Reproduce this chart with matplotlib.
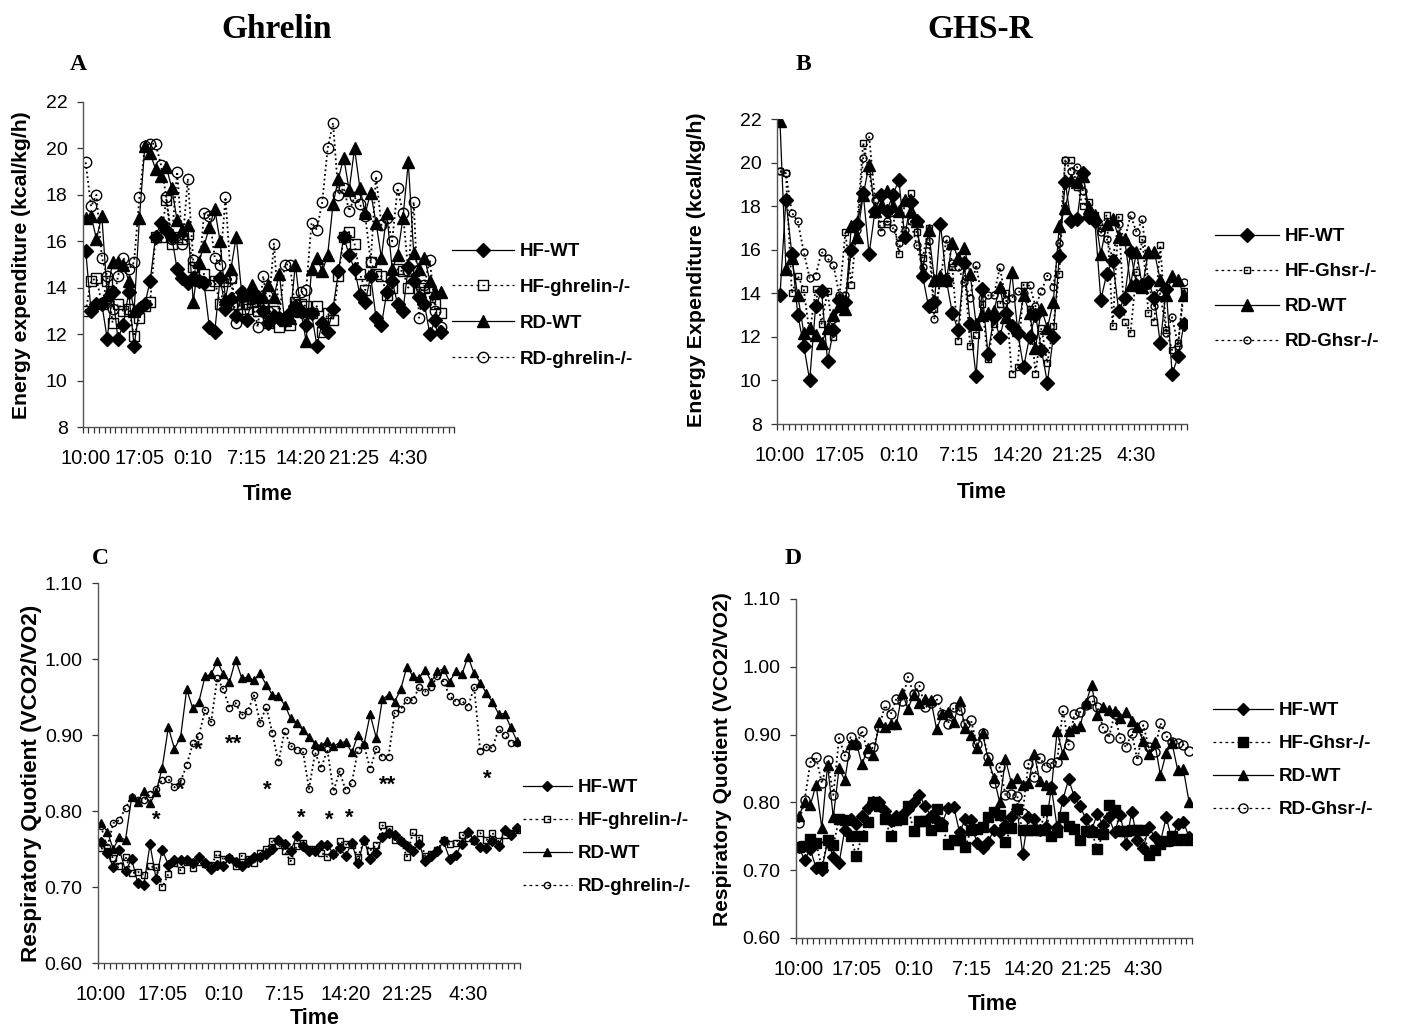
import numpy as np
import matplotlib.pyplot as plt

plt.rcParams['font.family'] = ['Liberation Sans', 'DejaVu Sans']

W, H = 1403, 1027

time_labels = ["10:00", "17:05", "0:10", "7:15", "14:20", "21:25", "4:30"]
n_cat = 69

# ---- Panel A: energy expenditure, ghrelin ----
a_hf_wt = [15.6, 13.0, 13.3, 13.3, 11.8, 13.8, 11.8, 12.4, 13.8, 11.5, 13.1, 13.3, 14.3, 16.2, 16.8,
           16.5, 16.2, 14.8, 14.4, 14.2, 14.4, 14.3, 14.2, 12.3, 12.1, 14.4, 13.1, 13.5, 12.8, 13.8,
           12.6, 13.6, 13.6, 13.0, 12.5, 12.8, 12.7, 12.6, 12.9, 13.2, 13.0, 12.4, 12.9, 11.5, 12.5,
           12.1, 13.1, 14.7, 16.2, 15.4, 14.8, 13.7, 13.4, 14.5, 12.7, 12.4, 13.8, 14.3, 13.3, 13.0,
           14.9, 14.3, 13.6, 13.3, 12.0, 12.6, 12.1]
a_hf_ko = [13.0, 14.3, 14.4, 13.3, 14.3, 12.5, 13.3, 13.0, 13.1, 11.9, 12.7, 13.2, 13.4, 16.2, 16.2,
           17.8, 15.9, 16.2, 16.1, 16.3, 14.9, 14.3, 14.6, 14.1, 14.3, 13.3, 14.3, 14.4, 13.3, 13.3,
           13.1, 13.4, 13.0, 13.2, 12.5, 13.0, 12.3, 12.7, 12.4, 13.4, 13.3, 13.2, 12.9, 13.2, 12.1,
           12.9, 12.6, 14.5, 16.2, 16.4, 15.9, 14.6, 13.9, 15.1, 14.6, 14.5, 13.7, 14.0, 14.8, 14.7,
           14.0, 14.7, 13.8, 14.0, 13.6, 13.3, 12.9]
a_rd_wt = [17.0, 17.1, 16.1, 17.1, 13.7, 15.1, 15.1, 15.0, 14.3, 13.0, 17.0, 20.1, 19.8, 19.1, 18.8,
           19.2, 18.3, 16.9, 16.5, 16.7, 13.4, 15.1, 15.8, 16.6, 17.4, 16.0, 13.5, 14.8, 16.2, 13.8,
           13.7, 14.1, 13.6, 13.6, 14.1, 13.6, 14.6, 12.6, 12.7, 15.0, 13.0, 11.7, 14.8, 15.3, 14.7,
           15.4, 17.6, 18.7, 19.6, 18.2, 20.0, 18.3, 17.2, 18.1, 16.8, 15.3, 17.2, 14.8, 15.4, 17.0,
           19.4, 15.5, 14.8, 15.3, 14.3, 13.8, 13.8]
a_rd_ko = [19.4, 17.5, 18.0, 15.3, 14.5, 13.1, 14.5, 15.3, 14.8, 15.1, 17.9, 20.1, 20.2, 20.2, 19.3,
           17.9, 16.1, 19.0, 15.9, 18.7, 15.2, 14.3, 17.2, 17.1, 15.3, 15.0, 17.9, 14.4, 12.5, 13.6,
           13.3, 13.5, 12.3, 14.5, 13.0, 15.9, 12.7, 15.0, 15.0, 13.0, 13.8, 13.9, 16.8, 16.5, 17.7,
           20.0, 21.1, 18.0, 18.3, 17.3, 17.9, 17.6, 17.1, 15.1, 18.8, 16.7, 17.0, 16.0, 18.3, 17.2,
           14.7, 17.7, 12.7, 14.1, 15.2, 13.0, 12.3]

# ---- Panel B: energy expenditure, GHS-R ----
b_hf_wt = [13.9, 18.3, 15.8, 13.0, 11.6, 10.0, 13.4, 14.1, 10.9, 12.3, 13.7, 13.6, 16.0, 17.2, 18.6,
           15.8, 17.8, 18.5, 17.8, 18.5, 19.2, 16.6, 18.2, 17.3, 14.8, 13.4, 13.6, 17.2, 14.6, 13.1,
           12.3, 15.4, 12.6, 10.2, 14.2, 11.2, 12.9, 12.0, 13.1, 12.5, 12.2, 10.6, 12.0, 13.0, 11.4,
           9.9, 12.0, 15.7, 19.1, 17.3, 17.4, 19.5, 17.5, 17.3, 13.7, 14.9, 15.5, 13.2, 13.8, 15.9,
           14.4, 14.4, 14.5, 13.8, 11.7, 14.2, 10.3, 11.1, 12.6]
b_hf_ko = [19.6, 19.5, 14.0, 14.8, 14.2, 12.1, 14.2, 12.6, 14.1, 12.0, 13.8, 16.8, 14.4, 17.2, 20.9,
           19.6, 17.8, 17.2, 17.2, 17.7, 15.8, 18.2, 18.6, 16.8, 15.6, 17.0, 13.3, 14.5, 14.7, 15.2,
           11.8, 15.3, 11.6, 12.1, 13.5, 11.0, 12.6, 13.5, 14.0, 10.3, 10.6, 14.4, 13.3, 10.3, 12.4,
           10.8, 12.5, 14.9, 20.1, 20.1, 18.9, 18.0, 18.2, 17.6, 17.0, 17.6, 12.5, 17.5, 12.7, 12.2,
           15.0, 16.5, 13.1, 12.7, 16.2, 12.3, 11.4, 11.7, 14.1]
b_rd_wt = [21.9, 15.1, 15.6, 13.9, 12.2, 12.4, 12.1, 11.7, 12.4, 13.0, 13.4, 13.3, 17.1, 16.6, 18.5,
           19.9, 17.8, 18.0, 18.7, 18.0, 17.8, 18.3, 17.8, 17.3, 15.0, 16.9, 14.6, 14.8, 14.6, 16.3,
           15.6, 16.1, 14.9, 12.6, 13.0, 13.1, 13.2, 14.3, 12.9, 15.0, 12.3, 13.9, 13.1, 11.5, 13.3,
           12.4, 13.6, 17.1, 17.9, 19.2, 19.1, 19.4, 17.9, 17.6, 15.8, 17.2, 17.4, 16.6, 16.5, 14.4,
           15.9, 14.3, 15.9, 15.9, 14.6, 13.9, 14.8, 14.6, 13.9]
b_rd_ko = [19.6, 19.5, 17.7, 17.3, 15.9, 14.7, 14.8, 15.9, 15.6, 15.3, 13.9, 13.9, 16.0, 16.9, 20.2,
           21.2, 18.3, 16.8, 17.3, 17.0, 16.3, 16.9, 17.3, 16.2, 15.2, 16.4, 12.8, 14.6, 16.5, 15.4,
           15.2, 14.5, 13.8, 15.3, 13.8, 13.9, 13.9, 15.2, 13.7, 13.8, 14.1, 14.0, 14.4, 13.4, 14.1,
           14.8, 14.3, 16.3, 20.1, 19.6, 19.8, 18.7, 17.8, 17.5, 16.8, 16.5, 15.6, 17.2, 16.4, 17.6,
           16.8, 17.4, 14.4, 13.4, 14.0, 12.2, 12.9, 11.6, 14.5]

# ---- Panel C: respiratory quotient, ghrelin ----
c_hf_wt = [0.759, 0.745, 0.726, 0.749, 0.721, 0.737, 0.705, 0.703, 0.756, 0.711, 0.749, 0.729, 0.736,
           0.735, 0.735, 0.732, 0.739, 0.732, 0.724, 0.729, 0.728, 0.738, 0.733, 0.728, 0.733, 0.740,
           0.740, 0.744, 0.750, 0.762, 0.756, 0.748, 0.767, 0.754, 0.748, 0.748, 0.755, 0.755, 0.744,
           0.751, 0.741, 0.758, 0.731, 0.762, 0.737, 0.745, 0.766, 0.771, 0.769, 0.760, 0.754, 0.748,
           0.757, 0.734, 0.741, 0.748, 0.760, 0.737, 0.742, 0.757, 0.772, 0.762, 0.753, 0.751, 0.761,
           0.754, 0.775, 0.768, 0.778]
c_hf_ko = [0.751, 0.748, 0.738, 0.728, 0.740, 0.718, 0.720, 0.716, 0.727, 0.726, 0.700, 0.717, 0.732,
           0.722, 0.733, 0.725, 0.733, 0.730, 0.729, 0.744, 0.737, 0.738, 0.728, 0.741, 0.737, 0.732,
           0.745, 0.750, 0.760, 0.755, 0.747, 0.734, 0.754, 0.758, 0.750, 0.750, 0.745, 0.740, 0.744,
           0.760, 0.756, 0.755, 0.740, 0.760, 0.748, 0.755, 0.781, 0.776, 0.762, 0.760, 0.740, 0.772,
           0.765, 0.741, 0.743, 0.749, 0.762, 0.756, 0.758, 0.769, 0.764, 0.760, 0.771, 0.762, 0.771,
           0.760, 0.768, 0.771, 0.775]
c_rd_wt = [0.784, 0.773, 0.750, 0.766, 0.762, 0.818, 0.812, 0.826, 0.810, 0.825, 0.857, 0.910, 0.882,
           0.897, 0.960, 0.935, 0.944, 0.977, 0.980, 0.997, 0.980, 0.970, 0.999, 0.975, 0.976, 0.972,
           0.981, 0.966, 0.953, 0.951, 0.940, 0.922, 0.916, 0.906, 0.898, 0.888, 0.886, 0.892, 0.885,
           0.890, 0.891, 0.877, 0.900, 0.888, 0.927, 0.896, 0.947, 0.953, 0.944, 0.960, 0.990, 0.977,
           0.975, 0.986, 0.970, 0.984, 0.987, 0.970, 0.984, 0.980, 1.003, 0.981, 0.969, 0.955, 0.943,
           0.928, 0.928, 0.910, 0.892]
c_rd_ko = [0.780, 0.752, 0.784, 0.788, 0.804, 0.818, 0.815, 0.814, 0.822, 0.829, 0.841, 0.842, 0.831,
           0.839, 0.860, 0.889, 0.899, 0.933, 0.917, 0.975, 0.960, 0.936, 0.942, 0.926, 0.932, 0.952,
           0.916, 0.937, 0.903, 0.864, 0.905, 0.886, 0.880, 0.879, 0.829, 0.877, 0.856, 0.881, 0.826,
           0.852, 0.827, 0.837, 0.880, 0.887, 0.855, 0.882, 0.871, 0.871, 0.929, 0.934, 0.946, 0.946,
           0.963, 0.957, 0.963, 0.978, 0.970, 0.951, 0.944, 0.945, 0.937, 0.963, 0.879, 0.884, 0.883,
           0.908, 0.900, 0.890, 0.890]
# significance marks: (category index, RQ level, text)
c_stars_x = [9.0, 12.9, 15.9, 21.6, 27.2, 32.7, 37.4, 40.6, 46.8, 63.1]
c_stars_y = [0.788, 0.828, 0.880, 0.888, 0.828, 0.790, 0.788, 0.790, 0.834, 0.842]
c_stars_txt = ["*", "*", "*", "**", "*", "*", "*", "*", "**", "*"]

# ---- Panel D: respiratory quotient, GHS-R ----
d_hf_wt = [0.734, 0.715, 0.731, 0.703, 0.701, 0.742, 0.720, 0.710, 0.760, 0.776, 0.768, 0.780, 0.792,
           0.801, 0.801, 0.788, 0.773, 0.780, 0.782, 0.790, 0.800, 0.811, 0.794, 0.780, 0.774, 0.770,
           0.792, 0.793, 0.756, 0.775, 0.774, 0.740, 0.733, 0.742, 0.760, 0.757, 0.767, 0.779, 0.791,
           0.724, 0.779, 0.776, 0.759, 0.763, 0.822, 0.763, 0.804, 0.834, 0.808, 0.794, 0.776, 0.759,
           0.783, 0.766, 0.778, 0.756, 0.782, 0.739, 0.786, 0.745, 0.733, 0.763, 0.749, 0.742, 0.778,
           0.745, 0.768, 0.771, 0.749]
d_hf_ko = [0.734, 0.736, 0.746, 0.740, 0.704, 0.745, 0.737, 0.775, 0.774, 0.750, 0.721, 0.751, 0.771,
           0.800, 0.794, 0.776, 0.750, 0.774, 0.776, 0.794, 0.758, 0.772, 0.772, 0.760, 0.790, 0.765,
           0.738, 0.745, 0.744, 0.734, 0.760, 0.761, 0.763, 0.778, 0.786, 0.782, 0.742, 0.762, 0.790,
           0.760, 0.760, 0.760, 0.759, 0.789, 0.750, 0.757, 0.779, 0.765, 0.761, 0.745, 0.758, 0.757,
           0.731, 0.754, 0.796, 0.789, 0.758, 0.758, 0.759, 0.759, 0.760, 0.722, 0.730, 0.738, 0.743,
           0.750, 0.745, 0.746, 0.744]
d_rd_wt = [0.780, 0.800, 0.796, 0.826, 0.762, 0.855, 0.778, 0.850, 0.833, 0.886, 0.888, 0.856, 0.880,
           0.870, 0.918, 0.911, 0.916, 0.915, 0.962, 0.938, 0.959, 0.946, 0.953, 0.951, 0.908, 0.930,
           0.934, 0.918, 0.950, 0.909, 0.899, 0.880, 0.903, 0.862, 0.836, 0.800, 0.864, 0.829, 0.836,
           0.826, 0.828, 0.872, 0.831, 0.826, 0.820, 0.905, 0.871, 0.906, 0.910, 0.912, 0.946, 0.973,
           0.929, 0.940, 0.936, 0.935, 0.924, 0.934, 0.920, 0.911, 0.890, 0.871, 0.889, 0.840, 0.873,
           0.888, 0.848, 0.849, 0.800]
d_rd_ko = [0.770, 0.803, 0.859, 0.867, 0.828, 0.862, 0.811, 0.895, 0.869, 0.896, 0.884, 0.906, 0.873,
           0.882, 0.911, 0.943, 0.930, 0.953, 0.949, 0.985, 0.960, 0.972, 0.940, 0.946, 0.953, 0.931,
           0.916, 0.941, 0.936, 0.915, 0.921, 0.886, 0.902, 0.867, 0.828, 0.852, 0.811, 0.812, 0.810,
           0.785, 0.857, 0.838, 0.866, 0.852, 0.858, 0.860, 0.937, 0.885, 0.930, 0.933, 0.944, 0.951,
           0.941, 0.910, 0.895, 0.930, 0.895, 0.881, 0.902, 0.862, 0.914, 0.881, 0.875, 0.917, 0.898,
           0.889, 0.887, 0.885, 0.876]

solid = '-'
dots = (0, (1, 1.6))


def fx(px):
    return px / W


def fy(py):
    return 1 - py / H


def make_axes(left, right, top, bottom):
    return fig.add_axes([fx(left), fy(bottom), fx(right - left), (bottom - top) / H])


def style_axes(ax, ylim, yticks, yfmt):
    ax.set_xlim(-0.5, n_cat - 0.5)
    ax.set_ylim(*ylim)
    for s in ['top', 'right']:
        ax.spines[s].set_visible(False)
    for s in ['left', 'bottom']:
        ax.spines[s].set_color('#555555')
        ax.spines[s].set_linewidth(1.0)
    ax.set_xticks(np.arange(-0.5, n_cat, 1.0))
    ax.set_xticklabels([])
    ax.set_xticks(np.arange(0, 70, 10), minor=True)
    ax.set_xticklabels(time_labels, minor=True, fontsize=14.5)
    ax.tick_params(axis='x', which='major', length=4, width=0.9, color='#333333', direction='out')
    ax.tick_params(axis='x', which='minor', length=0, pad=16)
    ax.set_yticks(yticks)
    ax.set_yticklabels([yfmt.format(v) for v in yticks], fontsize=14)
    ax.tick_params(axis='y', length=4, width=0.9, color='#333333', pad=7)


def plot_series(ax, series, specs):
    for y, (mk, ls, ms, fc) in zip(series, specs):
        x = np.arange(len(y))
        ax.plot(x, y, color='black', linestyle=ls, linewidth=0.9 if ls == solid else 1.3,
                marker=mk, markersize=ms, markerfacecolor=fc, markeredgecolor='black',
                markeredgewidth=1.0)


def add_legend(ax, labels, specs, x, y, spacing, hlen):
    handles = []
    for mk, ls, ms, fc in specs:
        h, = ax.plot([], [], color='black', linestyle=solid if ls == solid else (0, (2.2, 2.6)),
                     linewidth=0.9, marker=mk, markersize=ms, markerfacecolor=fc,
                     markeredgecolor='black', markeredgewidth=1.0)
        handles.append(h)
    fig.legend(handles, labels, loc='upper left', bbox_to_anchor=(fx(x), fy(y)),
               frameon=False, prop={'weight': 'bold', 'size': 13.5}, handlelength=hlen,
               handletextpad=0.3, labelspacing=spacing, borderpad=0, borderaxespad=0)


fig = plt.figure(figsize=(W / 100, H / 100), dpi=100)

# Panel A
axA = make_axes(83, 454, 102, 427)
specA = [('D', solid, 7, 'black'), ('s', dots, 7.5, 'none'), ('^', solid, 8, 'black'), ('o', dots, 7.5, 'none')]
plot_series(axA, [a_hf_wt, a_hf_ko, a_rd_wt, a_rd_ko], specA)
style_axes(axA, (8, 22), np.arange(8, 23, 2), "{:.0f}")
add_legend(axA, ["HF-WT", "HF-ghrelin-/-", "RD-WT", "RD-ghrelin-/-"], specA, 452, 243, 1.0, 3.3)

# Panel B
axB = make_axes(777, 1187, 119, 424)
specB = [('D', solid, 7, 'black'), ('s', dots, 5, 'none'), ('^', solid, 8, 'black'), ('o', dots, 5, 'none')]
plot_series(axB, [b_hf_wt, b_hf_ko, b_rd_wt, b_rd_ko], specB)
style_axes(axB, (8, 22), np.arange(8, 23, 2), "{:.0f}")
add_legend(axB, ["HF-WT", "HF-Ghsr-/-", "RD-WT", "RD-Ghsr-/-"], specB, 1215, 228, 0.96, 3.4)

# Panel C
axC = make_axes(98, 520, 583, 963)
specC = [('D', solid, 5, 'black'), ('s', dots, 4.5, 'none'), ('^', solid, 6, 'black'), ('o', dots, 4.5, 'none')]
plot_series(axC, [c_hf_wt, c_hf_ko, c_rd_wt, c_rd_ko], specC)
style_axes(axC, (0.6, 1.1), np.round(np.arange(0.6, 1.11, 0.1), 2), "{:.2f}")
for sx, sy, st in zip(c_stars_x, c_stars_y, c_stars_txt):
    axC.text(sx, sy, st, ha='center', va='center', fontsize=16, fontweight='bold')
add_legend(axC, ["HF-WT", "HF-ghrelin-/-", "RD-WT", "RD-ghrelin-/-"], specC, 523, 779, 0.85, 2.6)

# Panel D
axD = make_axes(796, 1192, 599, 938)
specD = [('D', solid, 6, 'black'), ('s', dots, 6.5, 'black'), ('^', solid, 7, 'black'), ('o', dots, 6.5, 'none')]
plot_series(axD, [d_hf_wt, d_hf_ko, d_rd_wt, d_rd_ko], specD)
style_axes(axD, (0.6, 1.1), np.round(np.arange(0.6, 1.11, 0.1), 2), "{:.2f}")
add_legend(axD, ["HF-WT", "HF-Ghsr-/-", "RD-WT", "RD-Ghsr-/-"], specD, 1213, 702, 0.85, 3.2)

# titles and panel letters
serif = ['Liberation Serif', 'DejaVu Serif']
fig.text(fx(277), fy(30), "Ghrelin", ha='center', va='center', fontsize=24, fontweight='bold', family=serif)
fig.text(fx(980), fy(30), "GHS-R", ha='center', va='center', fontsize=24, fontweight='bold', family=serif)
for lx, ly, lt in [(78, 64, "A"), (803, 64, "B"), (100, 559, "C"), (793, 559, "D")]:
    fig.text(fx(lx), fy(ly), lt, ha='center', va='center', fontsize=17, fontweight='bold', family=serif)

# axis titles
fig.text(fx(22), fy(265), "Energy expenditure (kcal/kg/h)", rotation=90, ha='center', va='center',
         fontsize=15.2, fontweight='bold')
fig.text(fx(697), fy(270), "Energy Expenditure (kcal/kg/h)", rotation=90, ha='center', va='center',
         fontsize=15.4, fontweight='bold')
fig.text(fx(32), fy(783), "Respiratory Quotient (VCO2/VO2)", rotation=90, ha='center', va='center',
         fontsize=16.2, fontweight='bold')
fig.text(fx(722), fy(759), "Respiratory Quotient (VCO2/VO2)", rotation=90, ha='center', va='center',
         fontsize=15.1, fontweight='bold')
for tx, ty in [(268, 495), (982, 493), (315, 1019), (993, 1005)]:
    fig.text(fx(tx), fy(ty), "Time", ha='center', va='center', fontsize=15.5, fontweight='bold')

fig.savefig("out.png", dpi=100)
